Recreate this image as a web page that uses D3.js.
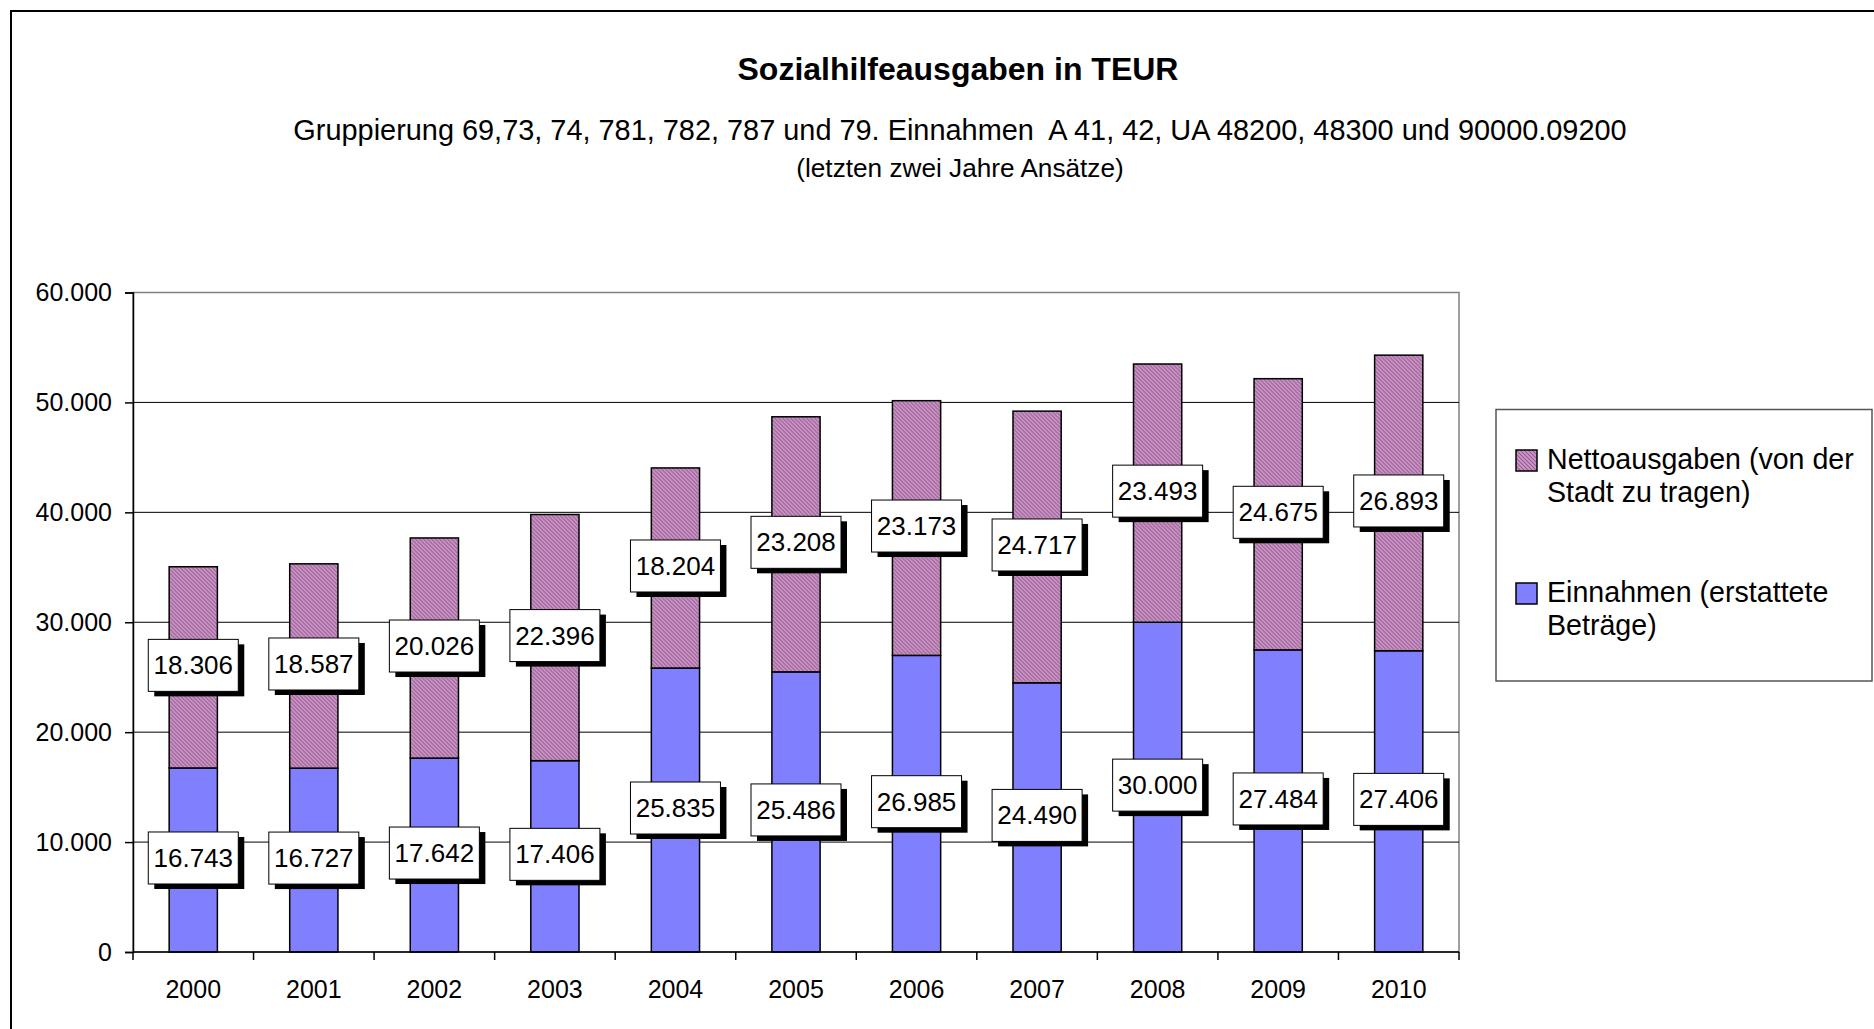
<!DOCTYPE html>
<html>
<head>
<meta charset="utf-8">
<script src="https://cdn.jsdelivr.net/npm/d3@7"></script>
<style>
  body { margin: 0; background: #fff; }
  text { font-family: "Liberation Sans", Arial, sans-serif; }
</style>
</head>
<body>
<div id="chart"></div>
<script>
// values (TEUR)
var years = ["2000", "2001", "2002", "2003", "2004", "2005", "2006", "2007", "2008", "2009", "2010"];
var einnahmen = [16743, 16727, 17642, 17406, 25835, 25486, 26985, 24490, 30000, 27484, 27406];
var netto = [18306, 18587, 20026, 22396, 18204, 23208, 23173, 24717, 23493, 24675, 26893];
var yTicks = [0, 10000, 20000, 30000, 40000, 50000, 60000];
var seriesNames = ["Nettoausgaben (von der|Stadt zu tragen)", "Einnahmen (erstattete|Beträge)"];

var de = d3.formatLocale({decimal: ",", thousands: ".", grouping: [3], currency: ["", " €"]});
var fmt = de.format(",d");

var W = 1874, H = 1029;
var margin = {top: 292.5, right: 415, bottom: 77, left: 133},
    width = W - margin.left - margin.right,
    height = H - margin.top - margin.bottom;

var root = d3.select("#chart")
  .append("svg")
    .attr("width", W)
    .attr("height", H);

// outer chart frame (cut off at right / bottom)
root.append("rect")
    .attr("x", 11).attr("y", 11)
    .attr("width", W + 20).attr("height", H + 20)
    .attr("fill", "none")
    .attr("stroke", "#000")
    .attr("stroke-width", 2);

var defs = root.append("defs");
var pat = defs.append("pattern")
    .attr("id", "hatch")
    .attr("patternUnits", "userSpaceOnUse")
    .attr("width", 4).attr("height", 4);
pat.append("rect").attr("width", 4).attr("height", 4).attr("fill", "#cc99cc");
pat.append("path")
    .attr("d", "M-1,-1 L5,5 M-1,3 L1,5 M3,-1 L5,1")
    .attr("stroke", "#96598a")
    .attr("stroke-width", 1.1);

// titles
root.append("text")
    .attr("x", 958).attr("y", 80)
    .attr("text-anchor", "middle")
    .attr("font-size", 32)
    .attr("font-weight", "bold")
    .text("Sozialhilfeausgaben in TEUR");
root.append("text")
    .attr("x", 960).attr("y", 140)
    .attr("text-anchor", "middle")
    .attr("font-size", 28.9)
    .style("white-space", "pre")
    .text("Gruppierung 69,73, 74, 781, 782, 787 und 79. Einnahmen  A 41, 42, UA 48200, 48300 und 90000.09200");
root.append("text")
    .attr("x", 960).attr("y", 177)
    .attr("text-anchor", "middle")
    .attr("font-size", 26.2)
    .text("(letzten zwei Jahre Ansätze)");

var svg = root.append("g")
    .attr("transform", "translate(" + margin.left + "," + margin.top + ")");

var x = d3.scaleBand()
    .domain(years)
    .range([0, width])
    .paddingInner(0.6)
    .paddingOuter(0.3);

var y = d3.scaleLinear()
    .domain([0, 60000])
    .range([height, 0]);

// plot frame
svg.append("rect")
    .attr("width", width).attr("height", height)
    .attr("fill", "#fff")
    .attr("stroke", "#808080")
    .attr("stroke-width", 1.5);

// grid lines
svg.append("g")
  .selectAll("line")
  .data(yTicks.slice(1, -1))
  .enter().append("line")
    .attr("x1", 0).attr("x2", width)
    .attr("y1", function(d) { return y(d); })
    .attr("y2", function(d) { return y(d); })
    .attr("stroke", "#000")
    .attr("stroke-width", 1);

var data = years.map(function(yr, i) { return {year: yr, einnahmen: einnahmen[i], netto: netto[i]}; });
var stacked = d3.stack().keys(["einnahmen", "netto"])(data);
var fills = {einnahmen: "#8080ff", netto: "url(#hatch)"};

svg.append("g")
  .selectAll("g")
  .data(stacked)
  .enter().append("g")
    .attr("fill", function(d) { return fills[d.key]; })
  .selectAll("rect")
  .data(function(d) { return d; })
  .enter().append("rect")
    .attr("x", function(d) { return x(d.data.year); })
    .attr("y", function(d) { return y(d[1]); })
    .attr("height", function(d) { return y(d[0]) - y(d[1]); })
    .attr("width", x.bandwidth())
    .attr("stroke", "#000")
    .attr("stroke-width", 1.5);

// axes
var yAxis = svg.append("g")
    .call(d3.axisLeft(y).tickValues(yTicks).tickSize(8).tickPadding(13).tickFormat(fmt));
var xAxis = svg.append("g")
    .attr("transform", "translate(0," + height + ")")
    .call(d3.axisBottom(x).tickSize(0).tickPadding(28));
[yAxis, xAxis].forEach(function(a) {
  a.select(".domain").attr("stroke", "#000").attr("stroke-width", 1.5);
  a.selectAll("text").attr("font-size", 25).attr("fill", "#000")
    .attr("font-family", "Liberation Sans, Arial, sans-serif");
  a.selectAll("line").attr("stroke", "#000").attr("stroke-width", 1.5);
});
xAxis.select(".domain").attr("d", "M0,0H" + width);
// category boundary ticks
svg.append("g")
  .selectAll("line")
  .data(d3.range(years.length + 1))
  .enter().append("line")
    .attr("x1", function(i) { return i * x.step(); })
    .attr("x2", function(i) { return i * x.step(); })
    .attr("y1", height).attr("y2", height + 8)
    .attr("stroke", "#000")
    .attr("stroke-width", 1.5);

// data labels
var labels = [];
stacked.forEach(function(s) {
  s.forEach(function(d) {
    labels.push({cx: x(d.data.year) + x.bandwidth() / 2, cy: y((d[0] + d[1]) / 2) - 2, v: d[1] - d[0]});
  });
});
var lab = svg.append("g")
  .selectAll("g")
  .data(labels)
  .enter().append("g")
    .attr("transform", function(d) { return "translate(" + d.cx + "," + d.cy + ")"; });
lab.append("rect")
    .attr("x", -45 + 6).attr("y", -26 + 5)
    .attr("width", 90).attr("height", 52)
    .attr("fill", "#000");
lab.append("rect")
    .attr("x", -45).attr("y", -26)
    .attr("width", 90).attr("height", 52)
    .attr("fill", "#fff")
    .attr("stroke", "#000")
    .attr("stroke-width", 1);
lab.append("text")
    .attr("text-anchor", "middle")
    .attr("y", 9)
    .attr("font-size", 26)
    .text(function(d) { return fmt(d.v); });

// legend
var lg = root.append("g");
lg.append("rect")
    .attr("x", 1496).attr("y", 409.5)
    .attr("width", 376).attr("height", 271.5)
    .attr("fill", "#fff")
    .attr("stroke", "#555")
    .attr("stroke-width", 1.5);
var items = lg.selectAll("g")
  .data(seriesNames)
  .enter().append("g")
    .attr("transform", function(d, i) { return "translate(1516," + (450 + i * 133) + ")"; });
items.append("rect")
    .attr("width", 21).attr("height", 21)
    .attr("fill", function(d, i) { return i === 0 ? "url(#hatch)" : "#8080ff"; })
    .attr("stroke", "#000")
    .attr("stroke-width", 1.5);
items.each(function(d) {
  var t = d3.select(this).append("text")
      .attr("x", 31)
      .attr("font-size", 28.6);
  d.split("|").forEach(function(line, j) {
    t.append("tspan").attr("x", 31).attr("y", 19 + j * 33).text(line);
  });
});
</script>
</body>
</html>
